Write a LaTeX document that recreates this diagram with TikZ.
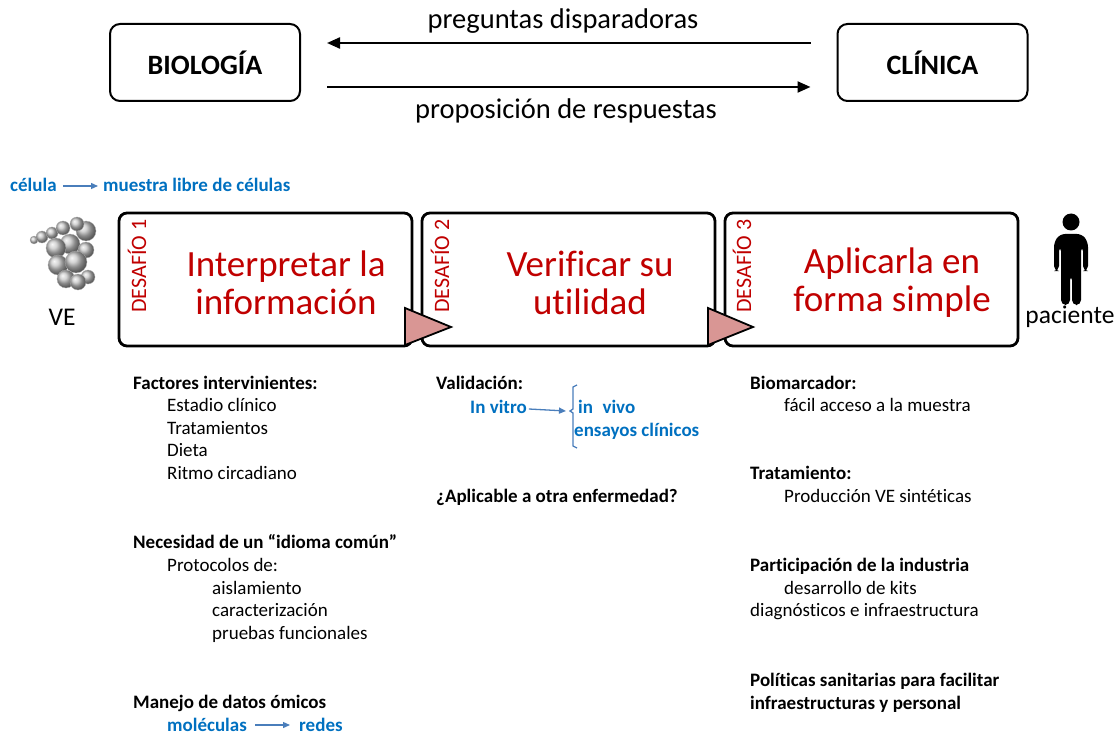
\documentclass[tikz,border=0pt]{standalone}
\usepackage{fontspec}
\setmainfont{Carlito}[Ligatures=NoCommon]
\usetikzlibrary{arrows.meta}
\definecolor{redtxt}{HTML}{C00000}
\definecolor{bluetxt}{HTML}{0070C0}
\definecolor{bluearrow}{HTML}{4A7EBB}
\definecolor{trifill}{HTML}{D99694}

\tikzset{
  topbox/.style={draw, line width=2pt, rounded corners=10pt, minimum width=190pt, minimum height=77pt,
    inner sep=0, font=\fontsize{28}{32}\selectfont\bfseries},
  challenge/.style={draw, line width=2.8pt, rounded corners=8pt, minimum width=293pt, minimum height=133pt, inner sep=0},
  bigarrow/.style={line width=2.2pt, -{Triangle[length=13pt,width=11pt]}},
  smallarrow/.style={draw=bluearrow, line width=1.3pt, -{Triangle[length=7pt,width=6pt]}},
  toplabel/.style={inner sep=0, font=\fontsize{28.5}{32}\selectfont},
  title/.style={inner sep=0, align=center, text=redtxt, font=\fontsize{37}{38}\selectfont},
  tag/.style={inner sep=0, rotate=90, text=redtxt, font=\fontsize{22}{24}\selectfont},
  body/.style={anchor=base west, inner sep=0, font=\fontsize{19}{22}\selectfont},
  bodyb/.style={body, font=\fontsize{19}{22}\selectfont\bfseries},
  bodyblue/.style={bodyb, text=bluetxt},
  sidelabel/.style={inner sep=0, font=\fontsize{25.5}{28}\selectfont},
  tri/.style={draw, fill=trifill, line width=1.8pt, line join=miter},
  vesphere/.style={ball color=gray!45, draw=gray!60, line width=0.3pt}
}

\begin{document}
\begin{tikzpicture}[x=1pt,y=-1pt]
\useasboundingbox (0,0) rectangle (1115,735);

% --- top: biology <-> clinic ---
\node[topbox] (bio) at (205,62.5) {BIOLOGÍA};
\node[topbox] (clin) at (932.5,62.5) {CLÍNICA};
\draw[bigarrow] ([xshift=-26pt,yshift=19.5pt]clin.west) -- ([xshift=26pt,yshift=19.5pt]bio.east);
\draw[bigarrow] ([xshift=26pt,yshift=-24.5pt]bio.east) -- ([xshift=-26pt,yshift=-24.5pt]clin.west);
\node[toplabel] (preg) at (563,21) {preguntas disparadoras};
\node[toplabel] (prop) at (566,111) {proposición de respuestas};

% --- cell -> cell-free sample ---
\node[bodyblue] (cel) at (10,192) {célula};
\node[bodyblue] (mue) at (103,192) {muestra libre de células};
\draw[smallarrow] ([xshift=6pt,yshift=6pt]cel.base east) -- ([xshift=-5pt,yshift=6pt]mue.base west);

% --- extracellular vesicles cluster ---
\begin{scope}
  \shade[vesphere] (34,240) circle (4);
  \shade[vesphere] (42,237) circle (6);
  \shade[vesphere] (52,233) circle (6);
  \shade[vesphere] (63,228) circle (7);
  \shade[vesphere] (86,231) circle (10);
  \shade[vesphere] (77,224) circle (7);
  \shade[vesphere] (70,244) circle (10);
  \shade[vesphere] (56,248) circle (10);
  \shade[vesphere] (86,250) circle (8);
  \shade[vesphere] (58,265) circle (10);
  \shade[vesphere] (76,262) circle (11);
  \shade[vesphere] (88,277) circle (7);
  \shade[vesphere] (66,279) circle (9);
  \shade[vesphere] (78,282) circle (8);
\end{scope}
\node[sidelabel] (ve) at (62,317) {VE};

% --- patient ---
\begin{scope}
  \fill (1071,222) circle (8.5);
  \fill[rounded corners=5pt] (1054,271) -- (1054,242) -- (1060,234) -- (1082,234) -- (1088,242) -- (1088,271)
     -- (1083,271) -- (1083,246) -- (1081,246) -- (1081,305) -- (1072,305) -- (1072,275) -- (1070,275)
     -- (1070,305) -- (1061,305) -- (1061,246) -- (1059,246) -- (1059,271) -- cycle;
\end{scope}
\node[sidelabel] (pac) at (1070,317) {paciente};

% --- the three challenges ---
\node[challenge] (d1) at (265.5,279.5) {};
\node[challenge] (d2) at (568.5,279.5) {};
\node[challenge] (d3) at (871.5,279.5) {};

\node[tag] (t1) at (137,266) {DESAFÍO 1};
\node[tag] (t2) at (440,266) {DESAFÍO 2};
\node[tag] (t3) at (742,266) {DESAFÍO 3};

\node[title] (h1) at (286,283) {Interpretar la\\información};
\node[title] (h2) at (590,283) {Verificar su\\utilidad};
\node[title] (h3) at (892,283) {Aplicarla en\\forma simple};

\draw[tri] (405,308) -- (451,327) -- (405,345) -- cycle;
\draw[tri] (708,308) -- (753,327) -- (708,345) -- cycle;

% --- column 1 ---
\node[bodyb] (f1) at (133,389) {Factores intervinientes:};
\node[body] (f2) at (167,411) {Estadio clínico};
\node[body] (f3) at (167,434) {Tratamientos};
\node[body] (f4) at (167,456) {Dieta};
\node[body] (f5) at (167,479) {Ritmo circadiano};
\node[bodyb] (n1) at (133,548) {Necesidad de un “idioma común”};
\node[body] (n2) at (167,571) {Protocolos de:};
\node[body] (n3) at (212,594) {aislamiento};
\node[body] (n4) at (212,616) {caracterización};
\node[body] (n5) at (212,639) {pruebas funcionales};
\node[bodyb] (m1) at (133,708) {Manejo de datos ómicos};
\node[bodyblue] (mol) at (167,731) {moléculas};
\node[bodyblue] (red) at (299,731) {redes};
\draw[smallarrow] ([xshift=8pt,yshift=6pt]mol.base east) -- ([xshift=-9pt,yshift=6pt]red.base west);

% --- column 2 ---
\node[bodyb] (v1) at (436,389) {Validación:};
\node[bodyblue] (vitro) at (470,413) {In vitro};
\node[bodyblue] (vivo) at (578,413) {in\hspace{0.5em}vivo};
\node[bodyblue] (ens) at (574,436) {ensayos clínicos};
\coordinate (brk) at (570,411);
\draw[smallarrow] ([xshift=2pt,yshift=4pt]vitro.base east) -- ([xshift=-4pt]brk);
\draw[draw=bluearrow, line width=1.3pt] (577,385) -- (573,387) -- (573,409) -- (brk) -- (573,413) -- (573,446) -- (577,448);
\node[bodyb] (apl) at (436,502) {¿Aplicable a otra enfermedad?};

% --- column 3 ---
\node[bodyb] (b1) at (750,389) {Biomarcador:};
\node[body] (b2) at (784,411) {fácil acceso a la muestra};
\node[bodyb] (tr1) at (750,479) {Tratamiento:};
\node[body] (tr2) at (784,502) {Producción VE sintéticas};
\node[bodyb] (p1) at (750,571) {Participación de la industria};
\node[body] (p2) at (784,594) {desarrollo de kits};
\node[body] (p3) at (750,616) {diagnósticos e infraestructura};
\node[bodyb] (s1) at (750,686) {Políticas sanitarias para facilitar};
\node[bodyb] (s2) at (750,709) {infraestructuras y personal};
\end{tikzpicture}
\end{document}
